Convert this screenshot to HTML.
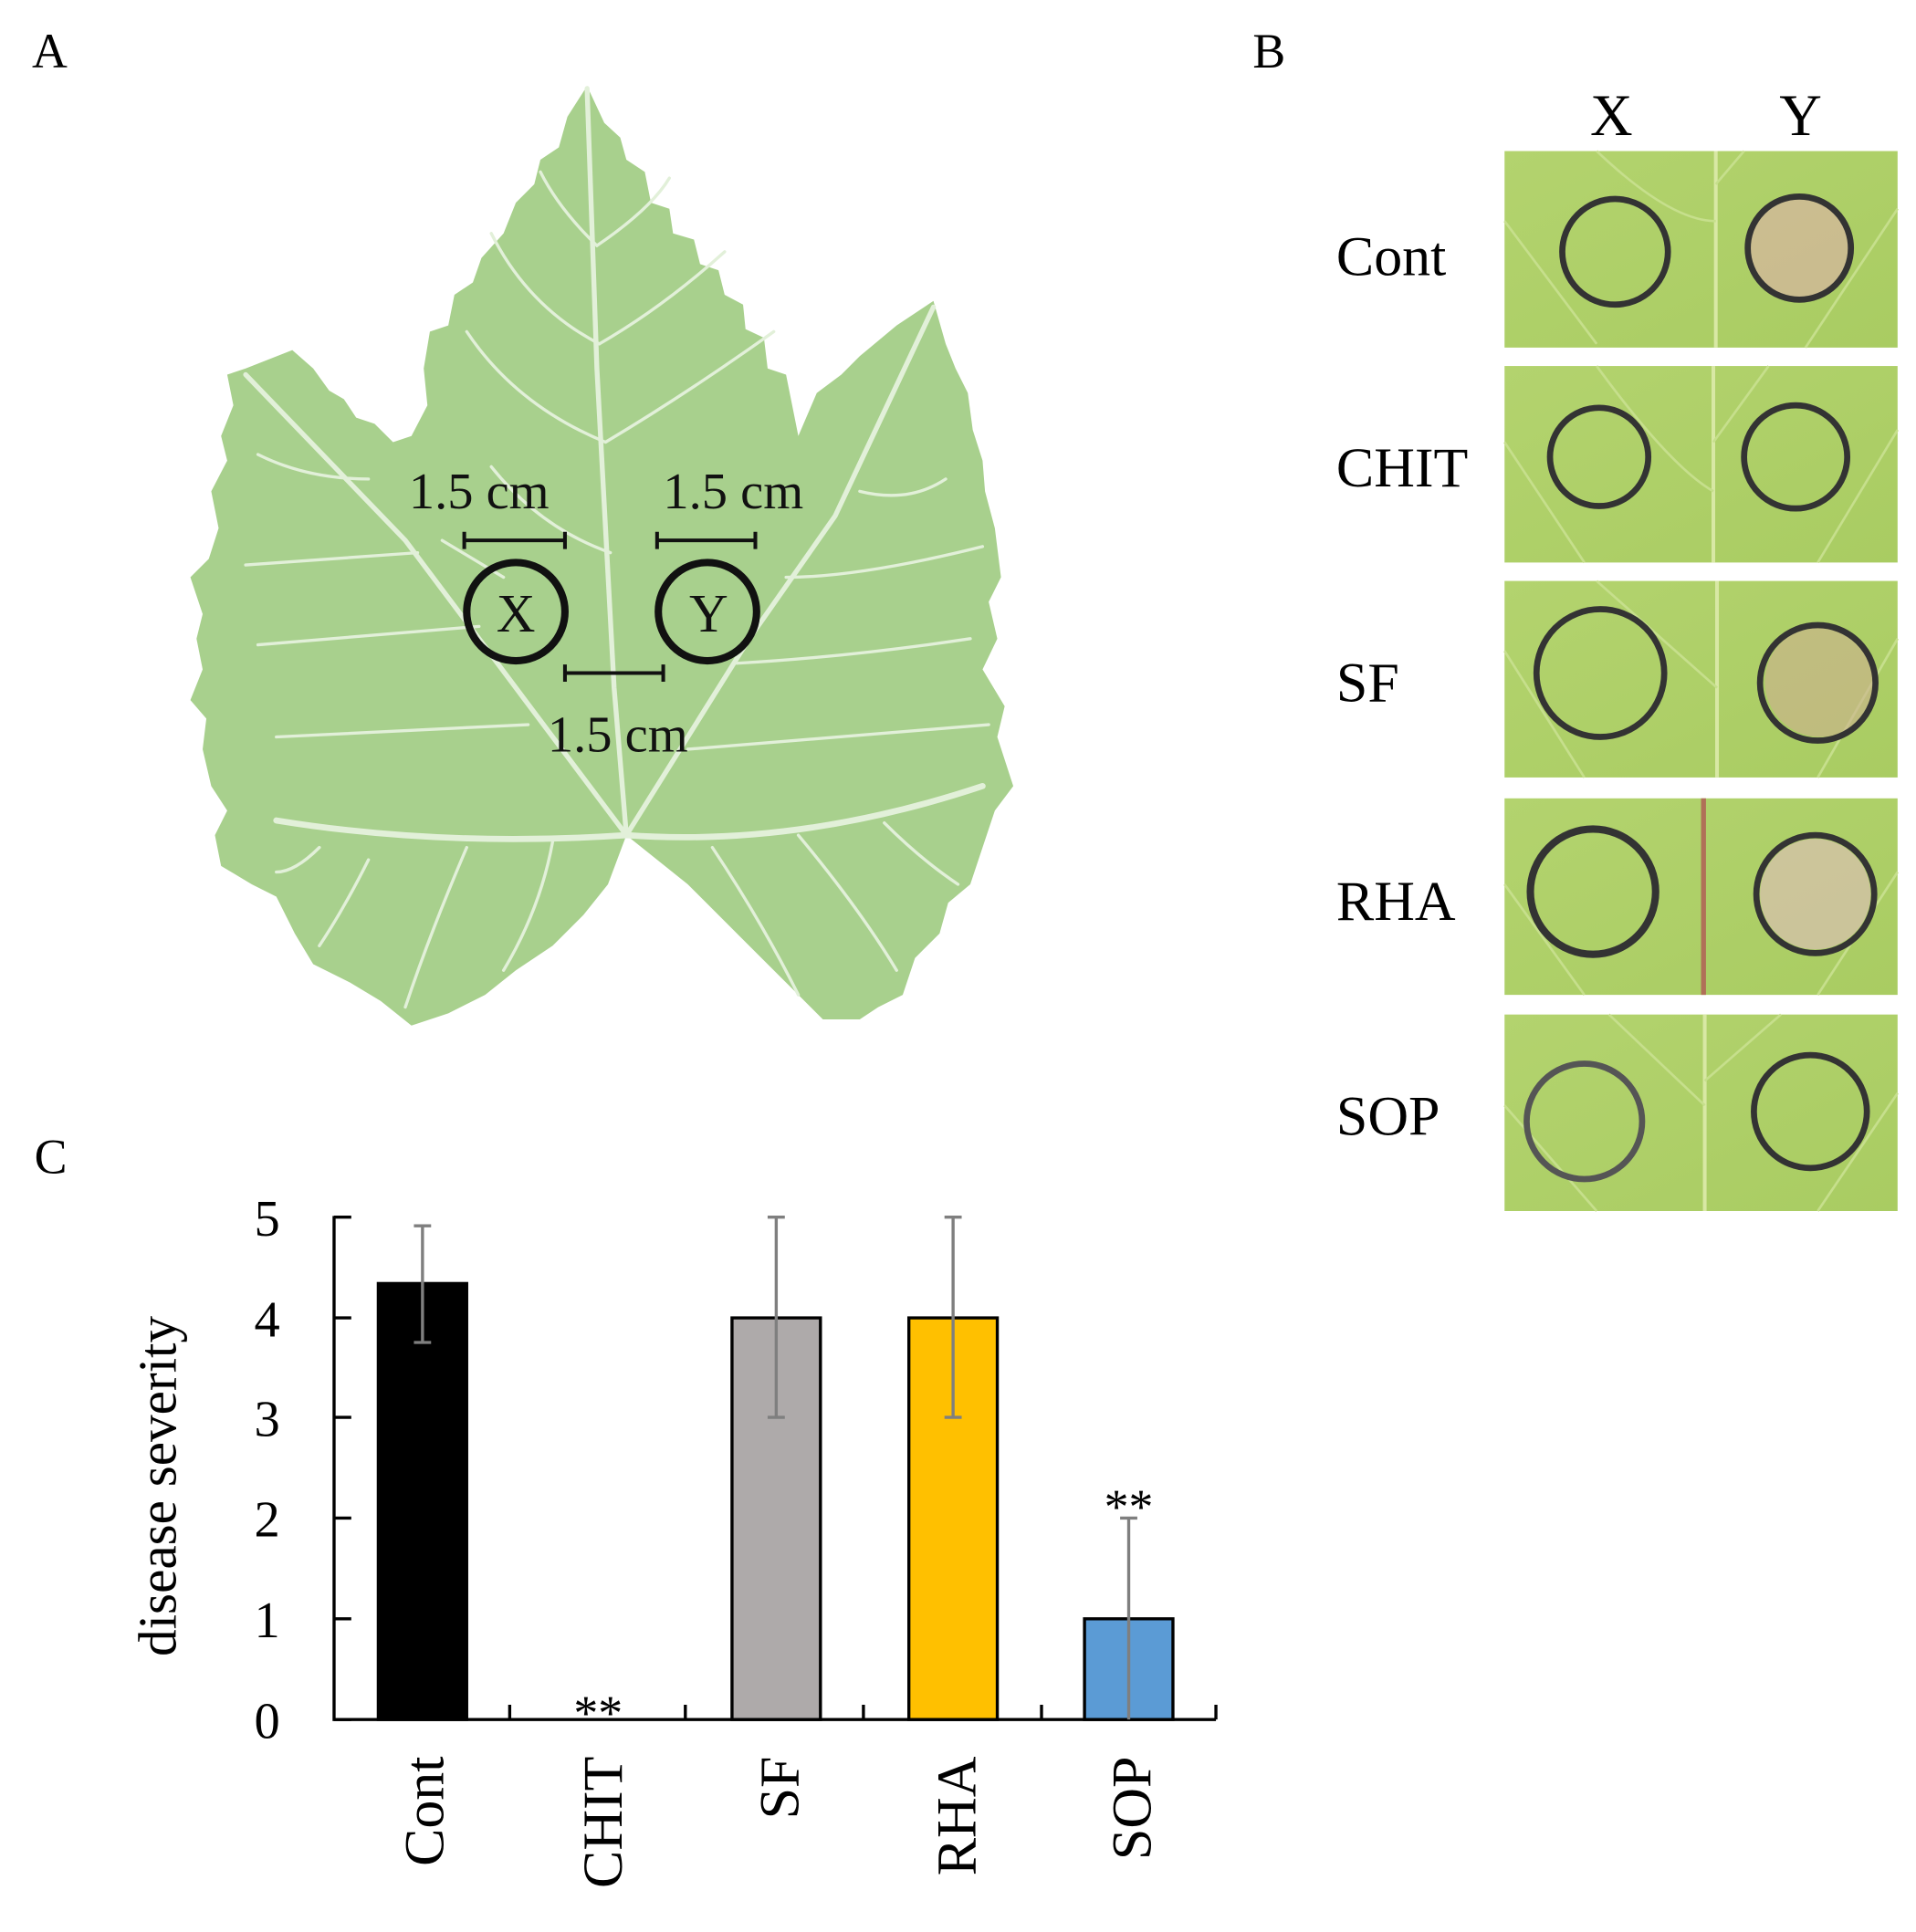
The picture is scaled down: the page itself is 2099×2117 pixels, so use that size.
<!DOCTYPE html>
<html><head><meta charset="utf-8"><style>html,body{margin:0;padding:0;background:#fff}svg{display:block}</style></head>
<body>
<svg width="2099" height="2117" viewBox="0 0 1560 1573" preserveAspectRatio="none" xmlns="http://www.w3.org/2000/svg" font-family="Liberation Serif, serif">
<rect width="1560" height="1573" fill="#fff"/>
<text x="26" y="55" font-size="40">A</text>
<text x="1020" y="55" font-size="40">B</text>
<text x="28" y="955" font-size="40">C</text>

<!-- Leaf -->
<polygon fill="#a8d08d" points="
478,70 492,100 505,112 510,130 525,140 530,165 545,170 548,190 565,195 570,215 585,220 590,240 605,248 607,268 622,275 625,300 640,305 650,355 665,320 685,305 700,290 730,265 760,245 770,280 778,300 788,320 792,350 800,375 802,400 810,430 815,470 805,490 812,520 800,545 818,575 812,600 825,640 810,660 800,690 790,720 772,735 765,760 745,780 735,810 715,820 700,830 670,830 640,800 600,760 560,720 510,680 495,720 475,745 450,770 420,790 395,810 365,825 335,835 310,815 285,800 255,785 240,760 225,730 205,720 180,705 175,680 185,660 172,640 165,610 168,585 155,570 165,545 160,520 165,500 155,470 170,455 178,430 172,400 185,375 180,355 190,330 185,305 200,300 238,285 255,300 268,318 280,325 290,340 305,345 320,360 335,355 348,330 345,300 350,270 365,265 370,240 385,230 392,210 410,190 420,165 435,150 440,130 455,120 462,95"/>
<g stroke="#e2f0d9" fill="none" stroke-linecap="round">
 <path d="M478,72 L486,300 L500,560 L510,680" stroke-width="4"/>
 <path d="M510,680 L420,560 L330,440 L200,305" stroke-width="4"/>
 <path d="M510,680 L610,520 L680,420 L760,250" stroke-width="4"/>
 <path d="M225,668 Q360,690 510,680 Q650,690 800,640" stroke-width="5"/>
 <path d="M486,200 Q530,170 545,145 M486,200 Q455,170 440,140 M488,280 Q540,250 590,205 M488,280 Q430,250 400,190 M493,360 Q560,320 630,270 M493,360 Q420,330 380,270 M497,450 Q440,430 400,380 M410,470 L360,440" stroke-width="2.5"/>
 <path d="M340,450 L200,460 M390,510 L210,525 M300,390 Q250,390 210,370 M430,590 L225,600" stroke-width="2.5"/>
 <path d="M640,470 Q700,470 800,445 M600,540 Q690,535 790,520 M700,400 Q740,410 770,390 M560,610 Q680,600 805,590" stroke-width="2.5"/>
 <path d="M300,700 Q280,740 260,770 M380,690 Q350,760 330,820 M450,685 Q440,740 410,790 M260,690 Q240,710 225,710" stroke-width="2.5"/>
 <path d="M580,690 Q620,750 650,810 M650,680 Q700,740 730,790 M720,670 Q750,700 780,720" stroke-width="2.5"/>
</g>
<g stroke="#111" fill="none">
 <path d="M378,440 H460 M378,433 V447 M460,433 V447" stroke-width="3"/>
 <path d="M535,440 H615 M535,433 V447 M615,433 V447" stroke-width="3"/>
 <path d="M460,548 H540 M460,541 V555 M540,541 V555" stroke-width="3"/>
 <circle cx="420" cy="498" r="40" stroke-width="6"/>
 <circle cx="576" cy="498" r="40" stroke-width="6"/>
</g>
<g font-size="42" fill="#111" text-anchor="middle">
 <text x="390" y="414">1.5 cm</text>
 <text x="597" y="414">1.5 cm</text>
 <text x="503" y="612">1.5 cm</text>
 <text x="420" y="514" font-size="44">X</text>
 <text x="577" y="514" font-size="44">Y</text>
</g>

<!-- Panel B -->
<g font-size="48" text-anchor="middle"><text x="1312" y="110">X</text><text x="1466" y="110">Y</text></g>
<g font-size="46">
 <text x="1088" y="224">Cont</text><text x="1088" y="396">CHIT</text><text x="1088" y="571">SF</text><text x="1088" y="749">RHA</text><text x="1088" y="924">SOP</text>
</g>
<defs><linearGradient id="lg" x1="0" x2="1" y1="0" y2="1"><stop offset="0" stop-color="#b3d36e"/><stop offset="1" stop-color="#a9cc62"/></linearGradient></defs>
<g>
 <rect x="1225" y="123" width="320" height="160" fill="url(#lg)"/>
 <rect x="1225" y="298" width="320" height="160" fill="url(#lg)"/>
 <rect x="1225" y="473" width="320" height="160" fill="url(#lg)"/>
 <rect x="1225" y="650" width="320" height="160" fill="url(#lg)"/>
 <rect x="1225" y="826" width="320" height="160" fill="url(#lg)"/>
 <g stroke="#d8e8a4" stroke-width="3">
  <line x1="1397" y1="123" x2="1397" y2="283"/><line x1="1395" y1="298" x2="1395" y2="458"/><line x1="1398" y1="473" x2="1398" y2="633"/><line x1="1388" y1="826" x2="1388" y2="986"/>
 </g>
 <line x1="1387" y1="650" x2="1387" y2="810" stroke="#b07058" stroke-width="4"/>
 <g stroke="#c6df8c" stroke-width="2" fill="none">
  <path d="M1225,180 L1300,280 M1300,123 Q1360,180 1397,180 M1545,170 L1470,283 M1420,123 L1397,150"/>
  <path d="M1225,360 L1290,458 M1300,298 Q1360,380 1395,400 M1545,350 L1480,458 M1440,298 L1395,360"/>
  <path d="M1225,530 L1290,633 M1300,473 L1398,560 M1545,520 L1480,633"/>
  <path d="M1225,720 L1290,810 M1545,710 L1480,810"/>
  <path d="M1225,900 L1300,986 M1310,826 L1388,900 M1545,890 L1480,986 M1450,826 L1388,880"/>
 </g>
 <circle cx="1465" cy="202" r="40" fill="#d2b89a" opacity="0.8"/>
 <circle cx="1482" cy="555" r="45" fill="#cdb08f" opacity="0.6"/>
 <circle cx="1478" cy="728" r="45" fill="#d8c0b0" opacity="0.7"/>
 <g fill="none" stroke="#333" stroke-width="5">
  <circle cx="1315" cy="205" r="43"/><circle cx="1465" cy="202" r="42"/>
  <circle cx="1302" cy="372" r="40"/><circle cx="1462" cy="372" r="42"/>
  <circle cx="1303" cy="548" r="52"/><circle cx="1480" cy="556" r="47"/>
  <circle cx="1297" cy="726" r="51" stroke-width="6"/><circle cx="1478" cy="728" r="48"/>
  <circle cx="1290" cy="913" r="47" stroke="#555"/><circle cx="1474" cy="905" r="46"/>
 </g>
</g>

<!-- Chart C -->
<g stroke="#000" stroke-width="2.5" fill="none">
 <path d="M272,990 V1400 H990"/>
 <path d="M272,991 H286 M272,1073 H286 M272,1154 H286 M272,1236 H286 M272,1318 H286 M272,1400 H286"/>
 <path d="M415,1400 V1388 M558,1400 V1388 M703,1400 V1388 M848,1400 V1388 M990,1400 V1388"/>
</g>
<g font-size="42" text-anchor="end"><text x="228" y="1006">5</text><text x="228" y="1088">4</text><text x="228" y="1169">3</text><text x="228" y="1251">2</text><text x="228" y="1333">1</text><text x="228" y="1415">0</text></g>
<g stroke="#000" stroke-width="2.5">
 <rect x="308" y="1045" width="72" height="355" fill="#000"/>
 <rect x="596" y="1073" width="72" height="327" fill="#aeaaaa"/>
 <rect x="740" y="1073" width="72" height="327" fill="#ffc000"/>
 <rect x="883" y="1318" width="72" height="82" fill="#5b9bd5"/>
</g>
<g stroke="#7f7f7f" stroke-width="2.5">
 <path d="M344,998 V1093 M337,998 H351 M337,1093 H351"/>
 <path d="M632,991 V1154 M625,991 H639 M625,1154 H639"/>
 <path d="M776,991 V1154 M769,991 H783 M769,1154 H783"/>
 <path d="M919,1236 V1400 M912,1236 H926"/>
</g>
<g font-size="40" text-anchor="middle"><text x="487" y="1408">**</text><text x="919" y="1240">**</text></g>
<text transform="translate(143,1210) rotate(-90)" font-size="44" text-anchor="middle">disease severity</text>
<g font-size="46" text-anchor="end">
 <text transform="translate(361,1430) rotate(-90)">Cont</text>
 <text transform="translate(506,1430) rotate(-90)">CHIT</text>
 <text transform="translate(650,1430) rotate(-90)">SF</text>
 <text transform="translate(794,1430) rotate(-90)">RHA</text>
 <text transform="translate(937,1430) rotate(-90)">SOP</text>
</g>
</svg>
</body></html>
